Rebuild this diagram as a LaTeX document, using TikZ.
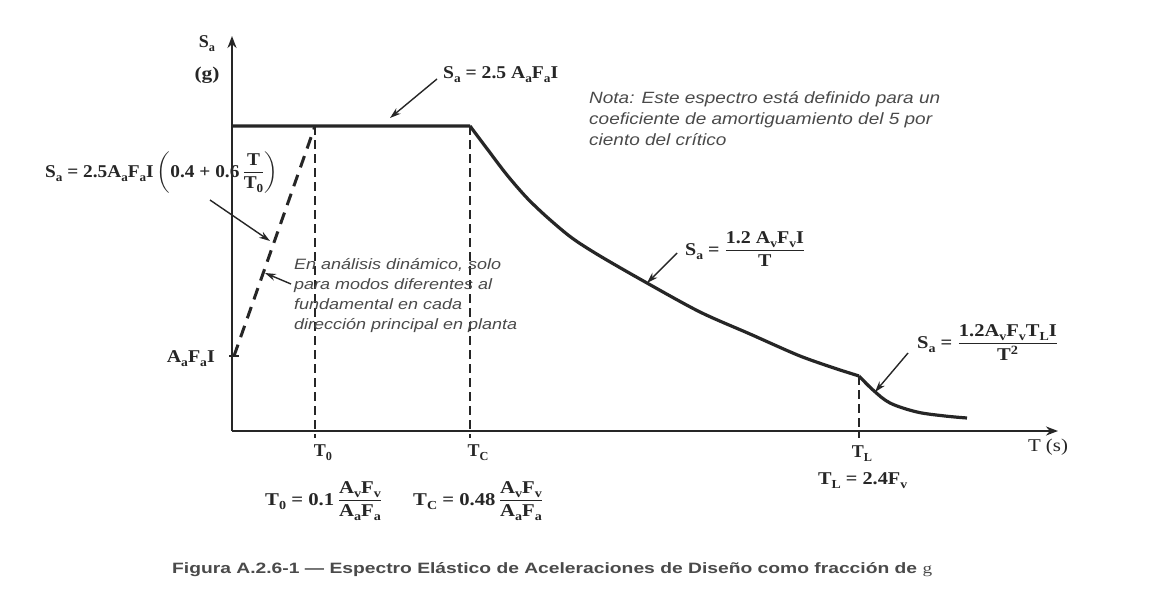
\documentclass[tikz,border=0pt]{standalone}
\usepackage{fontspec}
\setmainfont{Liberation Serif}
\setsansfont{Liberation Sans}
\usepackage{amsmath}
\usetikzlibrary{arrows.meta}
\newcommand\lo[1]{\raisebox{-0.5ex}{\scalebox{0.68}{#1}}}
\newcommand\fitw[2]{\resizebox{#1pt}{\height}{#2}}
\newcommand\lines[1]{\begin{tabular}[t]{@{}l@{}}#1\end{tabular}}
\definecolor{ink}{HTML}{262626}
\definecolor{note}{HTML}{4A4A4A}
\tikzset{
  axis/.style={ink, line width=2pt, -{Stealth[length=12pt,width=9pt]}},
  spectrum/.style={ink, line width=3.2pt, line join=round},
  guide/.style={ink, line width=1.2pt, dash pattern=on 9pt off 5pt},
  ramp/.style={ink, line width=3pt, dash pattern=on 12pt off 8pt},
  pointer/.style={ink, line width=1.4pt, -{Stealth[length=11pt,width=7pt]}},
  formula/.style={ink, font=\fontsize{18}{20}\selectfont\bfseries, inner sep=0pt},
  notetext/.style={note, font=\sffamily\itshape\fontsize{16.3}{21}\selectfont, inner sep=0pt},
  dyntext/.style={note, font=\sffamily\itshape\fontsize{15}{20.3}\selectfont, inner sep=0pt},
  captext/.style={note, font=\sffamily\bfseries\fontsize{15}{18}\selectfont, inner sep=0pt}
}
\begin{document}
\begin{tikzpicture}[x=1pt,y=-1pt]
\useasboundingbox[fill=white] (0,0) rectangle (1156,600);
% axes
\coordinate (O) at (232,431);
\coordinate (ytip) at (232,36);
\coordinate (xtip) at (1058,431);
\draw[axis] (O) -- (ytip);
\draw[axis] (O) -- (xtip);
% axis labels
\node[formula] (sa) at (207,44) {S\lo{a}};
\node[formula] (g) at (207,75) {\fitw{25}{(g)}};
\node[formula, font=\fontsize{18}{20}\selectfont] (ts) at (1048,447) {\fitw{40}{T (s)}};
% key points
\coordinate (p0) at (232,126);
\coordinate (pT0) at (315,126);
\coordinate (pTC) at (470,126);
\coordinate (pTL) at (859,376);
\coordinate (pend) at (967,418);
\coordinate (pA) at (234,356);
% dashed guides
\coordinate (bT0) at (315,438);
\coordinate (bTC) at (470,438);
\coordinate (bTL) at (859,438);
\draw[guide] (pT0) -- (bT0);
\draw[guide] (pTC) -- (bTC);
\draw[guide] (pTL) -- (bTL);
% ramp
\draw[ramp] (pA) -- (pT0);
\coordinate (tka) at (229,356);
\coordinate (tkb) at (239,356);
\draw[ink, line width=1.2pt] (tka) -- (tkb);
% spectrum
\draw[spectrum] (p0) -- (pTC)
  plot[smooth, tension=0.5] coordinates {(470,126) (488,150) (507,175) (527,198) (548,218) (572,238) (600,256) (647,283) (700,312) (750,334) (800,356) (840,370)}
  -- (pTL);
\draw[spectrum] (pTL) plot[smooth, tension=0.55] coordinates {(859,376) (873,390) (890,403) (917,412) (945,416) (967,418)};
% formulas
\node[formula, anchor=base west] (f1) at (443,78) {\fitw{115}{S\lo{a} = 2.5 A\lo{a}F\lo{a}I}};
\node[formula, anchor=base west] (f2) at (45,177) {\fitw{233}{$\text{S\lo{a} = 2.5A\lo{a}F\lo{a}I}\left(\text{0.4 + 0.6}\,\dfrac{\text{T}}{\text{T\lo{0}}}\right)$}};
\node[formula, anchor=base west] (f3) at (685,255) {\fitw{120}{$\text{S\lo{a} = }\dfrac{\text{1.2 A\lo{v}F\lo{v}I}}{\text{T}}$}};
\node[formula, anchor=base west] (f4) at (917,348) {\fitw{141}{$\text{S\lo{a} = }\dfrac{\text{1.2A\lo{v}F\lo{v}T\lo{L}I}}{\text{T\textsuperscript{2}}}$}};
\node[formula, anchor=base east] (aa) at (215,362) {\fitw{48}{A\lo{a}F\lo{a}I}};
% tick labels
\node[formula] (lt0) at (323,453) {T\lo{0}};
\node[formula] (ltc) at (478,453) {T\lo{C}};
\node[formula] (ltl) at (862,454) {T\lo{L}};
\node[formula, anchor=base west] (ft0) at (265,505) {\fitw{117}{$\text{T\lo{0} = 0.1}\,\dfrac{\text{A\lo{v}F\lo{v}}}{\text{A\lo{a}F\lo{a}}}$}};
\node[formula, anchor=base west] (ftc) at (413,505) {\fitw{130}{$\text{T\lo{C} = 0.48}\,\dfrac{\text{A\lo{v}F\lo{v}}}{\text{A\lo{a}F\lo{a}}}$}};
\node[formula, anchor=base west] (ftl) at (818,484) {\fitw{89}{T\lo{L} = 2.4F\lo{v}}};
% notes
\node[notetext, anchor=base west] (nota) at (589,103) {\fitw{351}{\lines{Nota: Este espectro está definido para un\\coeficiente de amortiguamiento del 5 por\\ciento del crítico}}};
\node[dyntext, anchor=base west] (dyn) at (294,269) {\fitw{223}{\lines{En análisis dinámico, solo\\para modos diferentes al\\fundamental en cada\\dirección principal en planta}}};
% pointers
\coordinate (a1s) at (437,79); \coordinate (a1e) at (390,118);
\coordinate (a2s) at (210,200); \coordinate (a2e) at (270,241);
\coordinate (a3s) at (291,284); \coordinate (a3e) at (265,273);
\coordinate (a4s) at (677,253); \coordinate (a4e) at (647,283);
\coordinate (a5s) at (908,353); \coordinate (a5e) at (875,392);
\draw[pointer] (a1s) -- (a1e);
\draw[pointer] (a2s) -- (a2e);
\draw[pointer] (a3s) -- (a3e);
\draw[pointer] (a4s) -- (a4e);
\draw[pointer] (a5s) -- (a5e);
% caption
\node[captext, anchor=base west] (cap) at (172,573) {\scalebox{1.284}[1]{Figura A.2.6-1 — Espectro Elástico de Aceleraciones de Diseño como fracción de \rmfamily\mdseries g}};
\end{tikzpicture}
\end{document}
